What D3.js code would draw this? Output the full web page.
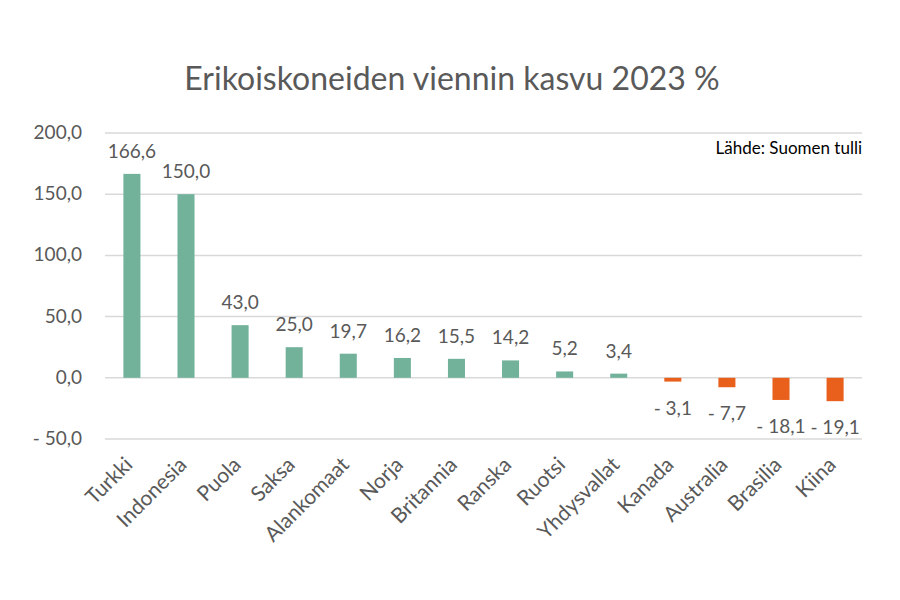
<!DOCTYPE html>
<html>
<head>
<meta charset="utf-8">
<title>Erikoiskoneiden viennin kasvu 2023</title>
<script src="https://d3js.org/d3.v7.min.js"></script>
<style>
    body {
        margin: 0;
        background: #fff;
    }
    text {
        font-family: Lato, "Open Sans", sans-serif;
        fill: #595959;
    }
</style>
</head>
<body>
<script>
    const countries = ["Turkki", "Indonesia", "Puola", "Saksa", "Alankomaat", "Norja", "Britannia",
        "Ranska", "Ruotsi", "Yhdysvallat", "Kanada", "Australia", "Brasilia", "Kiina"];
    const growth = [166.6, 150.0, 43.0, 25.0, 19.7, 16.2, 15.5, 14.2, 5.2, 3.4, -3.1, -7.7, -18.1, -19.1];
    const yTicks = [-50, 0, 50, 100, 150, 200];

    const data = countries.map(function(c, i) { return {name: c, value: growth[i]}; });

    const width = 900;
    const height = 600;
    const margin = {top: 133, right: 38, bottom: 161, left: 105};

    const svg = d3.select("body")
        .append("svg")
        .attr("width", width)
        .attr("height", height);

    const x = d3.scaleBand()
        .domain(countries)
        .range([margin.left, width - margin.right])
        .paddingInner(0.685)
        .paddingOuter(0.34);

    const y = d3.scaleLinear()
        .domain([-50, 200])
        .range([height - margin.bottom, margin.top]);

    function fmt(v) {
        const s = Math.abs(v).toFixed(1).replace(".", ",");
        return v < 0 ? "- " + s : s;
    }

    // grid lines
    svg.append("g")
        .selectAll("line")
        .data(yTicks)
        .join("line")
        .attr("x1", margin.left)
        .attr("x2", width - margin.right)
        .attr("y1", function(d) { return y(d); })
        .attr("y2", function(d) { return y(d); })
        .attr("stroke", "#d9d9d9")
        .attr("stroke-width", 1.5);

    // y axis labels
    svg.append("g")
        .selectAll("text")
        .data(yTicks)
        .join("text")
        .attr("x", 82)
        .attr("y", function(d) { return y(d) + 6; })
        .attr("text-anchor", "end")
        .style("font-size", "19px")
        .text(fmt);

    // bars
    svg.append("g")
        .selectAll("rect")
        .data(data)
        .join("rect")
        .attr("x", function(d) { return x(d.name); })
        .attr("width", x.bandwidth())
        .attr("y", function(d) { return y(Math.max(0, d.value)); })
        .attr("height", function(d) { return Math.abs(y(d.value) - y(0)); })
        .attr("fill", function(d) { return d.value >= 0 ? "#72b29b" : "#e8601c"; });

    // value labels
    svg.append("g")
        .selectAll("text")
        .data(data)
        .join("text")
        .attr("x", function(d) { return x(d.name) + x.bandwidth() / 2; })
        .attr("y", function(d) { return d.value >= 0 ? y(d.value) - 16 : y(d.value) + 33; })
        .attr("text-anchor", "middle")
        .style("font-size", "19px")
        .text(function(d) { return fmt(d.value); });

    // x axis labels
    svg.append("g")
        .selectAll("text")
        .data(countries)
        .join("text")
        .attr("transform", function(d) {
            return "translate(" + (x(d) + x.bandwidth() / 2 + 2) + "," + 466 + ") rotate(-45)";
        })
        .attr("text-anchor", "end")
        .style("font-size", "21px")
        .text(function(d) { return d; });

    // title
    svg.append("text")
        .attr("x", width / 2 + 2)
        .attr("y", 90)
        .attr("text-anchor", "middle")
        .style("font-size", "32px")
        .text("Erikoiskoneiden viennin kasvu 2023 %");

    svg.append("text")
        .attr("x", width - margin.right)
        .attr("y", 154)
        .attr("text-anchor", "end")
        .style("font-size", "17px")
        .style("fill", "#000")
        .text("Lähde: Suomen tulli");
</script>
</body>
</html>
